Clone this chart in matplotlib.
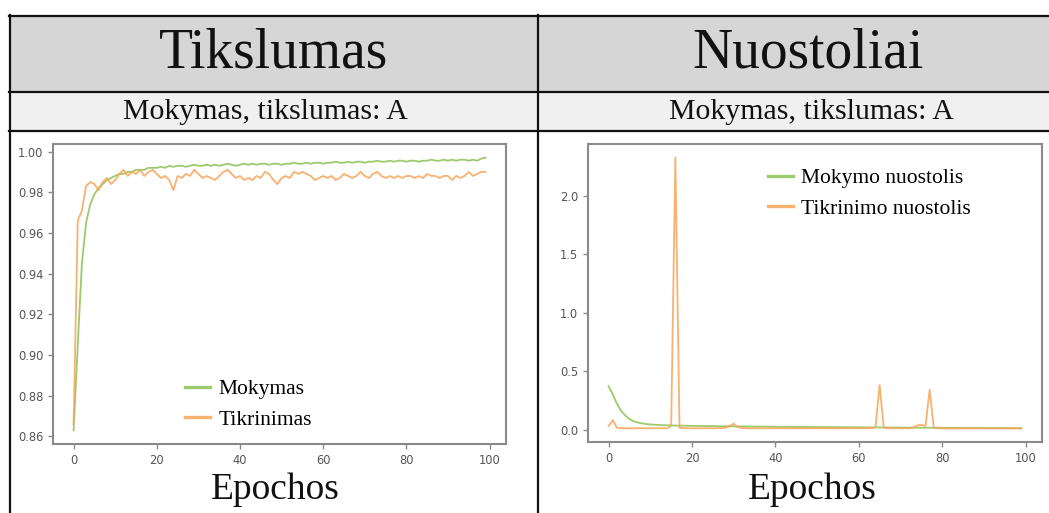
import matplotlib
matplotlib.use("Agg")
import matplotlib.pyplot as plt
from matplotlib.patches import Rectangle
from matplotlib.lines import Line2D
import numpy as np

# ---------------- data ----------------
epochs = list(range(100))

acc_train = [0.863, 0.905, 0.945, 0.965, 0.974, 0.979, 0.982, 0.984, 0.986, 0.987,
             0.988, 0.989, 0.989, 0.990, 0.990, 0.991, 0.991, 0.991, 0.992, 0.992,
             0.992, 0.9925, 0.992, 0.993, 0.9925, 0.993, 0.993, 0.9925, 0.993, 0.9935,
             0.993, 0.993, 0.9935, 0.993, 0.9935, 0.993, 0.9935, 0.994, 0.9935, 0.993,
             0.9935, 0.994, 0.9935, 0.994, 0.9935, 0.994, 0.994, 0.9935, 0.994, 0.994,
             0.9935, 0.994, 0.994, 0.9945, 0.994, 0.994, 0.9945, 0.994, 0.9945, 0.9945,
             0.994, 0.9945, 0.9945, 0.995, 0.9945, 0.9945, 0.995, 0.9945, 0.995, 0.995,
             0.9945, 0.995, 0.995, 0.9955, 0.995, 0.995, 0.9955, 0.995, 0.9955, 0.9955,
             0.995, 0.9955, 0.9955, 0.995, 0.9955, 0.9955, 0.996, 0.9955, 0.9955, 0.996,
             0.9955, 0.996, 0.9955, 0.996, 0.996, 0.9955, 0.996, 0.9955, 0.9965, 0.997]

acc_val = [0.866, 0.966, 0.971, 0.983, 0.985, 0.984, 0.981, 0.985, 0.987, 0.984,
           0.986, 0.989, 0.991, 0.988, 0.990, 0.989, 0.991, 0.988, 0.990, 0.991,
           0.989, 0.987, 0.988, 0.986, 0.981, 0.988, 0.987, 0.989, 0.988, 0.991,
           0.989, 0.987, 0.988, 0.987, 0.986, 0.988, 0.990, 0.991, 0.989, 0.987,
           0.988, 0.986, 0.987, 0.986, 0.988, 0.987, 0.990, 0.989, 0.986, 0.984,
           0.987, 0.988, 0.987, 0.990, 0.989, 0.990, 0.989, 0.988, 0.986, 0.987,
           0.988, 0.987, 0.988, 0.986, 0.987, 0.989, 0.988, 0.987, 0.988, 0.990,
           0.988, 0.987, 0.989, 0.990, 0.988, 0.987, 0.988, 0.987, 0.988, 0.987,
           0.988, 0.988, 0.987, 0.988, 0.987, 0.989, 0.988, 0.988, 0.987, 0.988,
           0.988, 0.986, 0.988, 0.987, 0.988, 0.990, 0.988, 0.989, 0.990, 0.990]

loss_train = [0.37, 0.30, 0.22, 0.16, 0.12, 0.09, 0.07, 0.06, 0.052, 0.047,
              0.043, 0.041, 0.039, 0.037, 0.036, 0.035, 0.034, 0.033, 0.033, 0.032,
              0.031, 0.031, 0.030, 0.030, 0.029, 0.029, 0.028, 0.028, 0.028, 0.027,
              0.027, 0.027, 0.026, 0.026, 0.026, 0.025, 0.025, 0.025, 0.024, 0.024,
              0.024, 0.023, 0.023, 0.023, 0.023, 0.022, 0.022, 0.022, 0.022, 0.021,
              0.021, 0.021, 0.021, 0.020, 0.020, 0.020, 0.020, 0.019, 0.019, 0.019,
              0.019, 0.018, 0.018, 0.018, 0.018, 0.018, 0.017, 0.017, 0.017, 0.017,
              0.016, 0.016, 0.016, 0.016, 0.016, 0.015, 0.015, 0.015, 0.015, 0.015,
              0.014, 0.014, 0.014, 0.014, 0.014, 0.013, 0.013, 0.013, 0.013, 0.013,
              0.013, 0.012, 0.012, 0.012, 0.012, 0.012, 0.012, 0.011, 0.011, 0.011]

loss_val = [0.03, 0.08, 0.015, 0.012, 0.010, 0.011, 0.010, 0.012, 0.011, 0.010,
            0.011, 0.010, 0.012, 0.011, 0.010, 0.030, 2.33, 0.015, 0.012, 0.011,
            0.010, 0.011, 0.010, 0.012, 0.011, 0.010, 0.011, 0.012, 0.015, 0.030,
            0.050, 0.020, 0.012, 0.011, 0.010, 0.011, 0.010, 0.011, 0.010, 0.011,
            0.010, 0.011, 0.010, 0.011, 0.010, 0.011, 0.010, 0.011, 0.010, 0.011,
            0.010, 0.011, 0.010, 0.011, 0.010, 0.011, 0.010, 0.011, 0.010, 0.011,
            0.010, 0.011, 0.012, 0.011, 0.020, 0.38, 0.015, 0.011, 0.010, 0.011,
            0.010, 0.011, 0.010, 0.015, 0.035, 0.040, 0.030, 0.34, 0.015, 0.011,
            0.010, 0.009, 0.010, 0.009, 0.010, 0.009, 0.010, 0.009, 0.010, 0.009,
            0.010, 0.009, 0.010, 0.009, 0.010, 0.009, 0.010, 0.009, 0.010, 0.009]

header_titles = ["Tikslumas", "Nuostoliai"]
sub_titles = ["Mokymas, tikslumas: A", "Mokymas, tikslumas: A"]
acc_labels = ["Mokymas", "Tikrinimas"]
loss_labels = ["Mokymo nuostolis", "Tikrinimo nuostolis"]
xlabel = "Epochos"

GREEN = "#8cc152"
ORANGE = "#f7a456"

W, H = 1049, 513
fig = plt.figure(figsize=(W / 100, H / 100), dpi=100)
fig.patch.set_facecolor("white")

def fx(px):
    return px / W

def fy(py):
    return 1 - py / H

def add_rect(x0, y0, x1, y1, color):
    fig.patches.append(Rectangle((fx(x0), fy(y1)), fx(x1) - fx(x0), fy(y0) - fy(y1),
                                 transform=fig.transFigure, facecolor=color,
                                 edgecolor="none", zorder=0))

def hline(y, x0, x1):
    fig.add_artist(Line2D([fx(x0), fx(x1)], [fy(y), fy(y)], transform=fig.transFigure,
                          color="#111111", lw=1.6, zorder=5))

def vline(x, y0, y1):
    fig.add_artist(Line2D([fx(x), fx(x)], [fy(y0), fy(y1)], transform=fig.transFigure,
                          color="#111111", lw=1.6, zorder=5))

# table cells
add_rect(9, 15, W, 91, "#d6d6d6")
add_rect(9, 91, W, 131, "#f0f0f0")
hline(15.5, 9, W)
hline(91.5, 9, W)
hline(130.5, 9, W)
vline(9.5, 15, H)
vline(537.5, 15, H)

serif = ["Liberation Serif", "DejaVu Serif"]

fig.text(fx(274), fy(53), header_titles[0], family=serif, fontsize=40,
         ha="center", va="center", color="#111111")
fig.text(fx(808), fy(53), header_titles[1], family=serif, fontsize=40,
         ha="center", va="center", color="#111111")
fig.text(fx(265), fy(112), sub_titles[0], family=serif, fontsize=21.5,
         ha="center", va="center", color="#111111")
fig.text(fx(811), fy(112), sub_titles[1], family=serif, fontsize=21.5,
         ha="center", va="center", color="#111111")
fig.text(fx(275), fy(490), xlabel, family=serif, fontsize=27,
         ha="center", va="center", color="#111111")
fig.text(fx(812), fy(490), xlabel, family=serif, fontsize=27,
         ha="center", va="center", color="#111111")

def make_axes(x0, y0, x1, y1):
    ax = fig.add_axes([fx(x0), fy(y1), fx(x1) - fx(x0), fy(y0) - fy(y1)])
    for s in ax.spines.values():
        s.set_color("#8a8a8a")
        s.set_linewidth(1.5)
    ax.tick_params(colors="#8a8a8a", labelcolor="#555555", labelsize=8.3,
                   length=3.5, width=1)
    return ax

leg_kw = dict(frameon=False, prop={"family": serif, "size": 15.5},
              handlelength=1.15, handletextpad=0.4, labelspacing=0.5,
              borderpad=0, borderaxespad=0)

# accuracy
ax1 = make_axes(53, 144, 506, 444)
ax1.plot(epochs, acc_train, color=GREEN, lw=1.3, alpha=0.85, label=acc_labels[0])
ax1.plot(epochs, acc_val, color=ORANGE, lw=1.3, alpha=0.85, label=acc_labels[1])
ax1.set_yticks([0.86, 0.88, 0.90, 0.92, 0.94, 0.96, 0.98, 1.00])
ax1.set_xticks([0, 20, 40, 60, 80, 100])
ax1.legend(loc="upper left", bbox_to_anchor=(fx(185), fy(379)),
           bbox_transform=fig.transFigure, **leg_kw)
for l in ax1.get_legend().get_lines():
    l.set_linewidth(2.4)

# loss
ax2 = make_axes(588, 144, 1042, 442)
ax2.plot(epochs, loss_train, color=GREEN, lw=1.3, alpha=0.85, label=loss_labels[0])
ax2.plot(epochs, loss_val, color=ORANGE, lw=1.3, alpha=0.85, label=loss_labels[1])
ax2.set_yticks([0.0, 0.5, 1.0, 1.5, 2.0])
ax2.set_xticks([0, 20, 40, 60, 80, 100])
ax2.legend(loc="upper left", bbox_to_anchor=(fx(768), fy(168)),
           bbox_transform=fig.transFigure, **leg_kw)
for l in ax2.get_legend().get_lines():
    l.set_linewidth(2.4)

fig.savefig("out.png", dpi=100, facecolor="white")
